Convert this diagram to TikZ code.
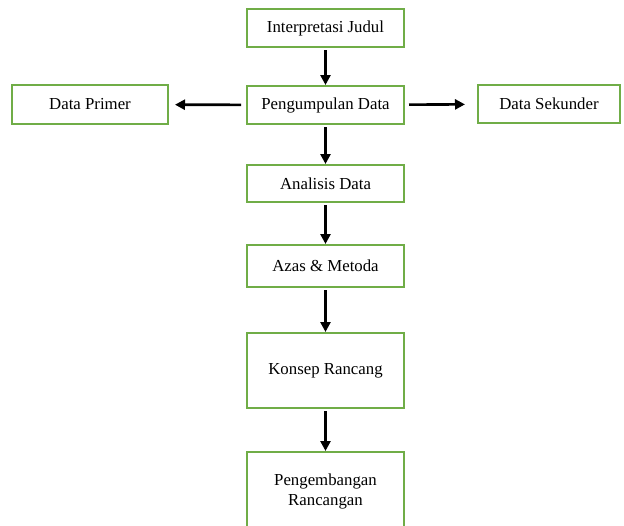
\documentclass[tikz,border=0pt]{standalone}
\usepackage{fontspec}
\setmainfont{Liberation Serif}
\usepackage{xcolor}
\usetikzlibrary{arrows.meta}

\definecolor{boxgreen}{RGB}{112,173,71}

\begin{document}
\begin{tikzpicture}[x=1pt,y=-1pt,
  box/.style={draw=boxgreen, line width=2pt, fill=white, inner sep=0pt,
    font=\fontsize{16.8}{20}\selectfont},
  flow/.style={-{Triangle[width=10pt,length=10pt]}, line width=2.6pt, shorten <=2pt}]
\useasboundingbox (0,0) rectangle (624,525);
\clip (0,0) rectangle (624,525);

\node[box, minimum width=157, minimum height=38] (interp) at (325.5,28) {Interpretasi Judul};
\node[box, minimum width=157, minimum height=38] (kumpul) at (325.5,105) {Pengumpulan Data};
\node[box, minimum width=156, minimum height=39] (primer) at (90,104.5) {Data Primer};
\node[box, minimum width=142, minimum height=38] (sekunder) at (549,104) {Data Sekunder};
\node[box, minimum width=157, minimum height=37] (analisis) at (325.5,183.5) {Analisis Data};
\node[box, minimum width=157, minimum height=42] (azas) at (325.5,266) {Azas \& Metoda};
\node[box, minimum width=157, minimum height=75] (konsep) at (325.5,370.5) {Konsep Rancang};
\node[box, minimum width=157, minimum height=78] (kembang) at (325.5,491)
  {\raisebox{9pt}{\begin{tabular}{@{}c@{}}Pengembangan\\Rancangan\end{tabular}}};

\draw[flow] (interp) -- (kumpul);
\draw[flow] (kumpul) -- (analisis);
\draw[flow] (analisis) -- (azas);
\draw[flow] (azas) -- (konsep);
\draw[flow] (konsep) -- (kembang);

\draw[flow, shorten <=5pt, shorten >=6pt] (kumpul) -- (primer);
\draw[flow, shorten <=4pt, shorten >=12pt] (kumpul) -- (sekunder);
\end{tikzpicture}
\end{document}
